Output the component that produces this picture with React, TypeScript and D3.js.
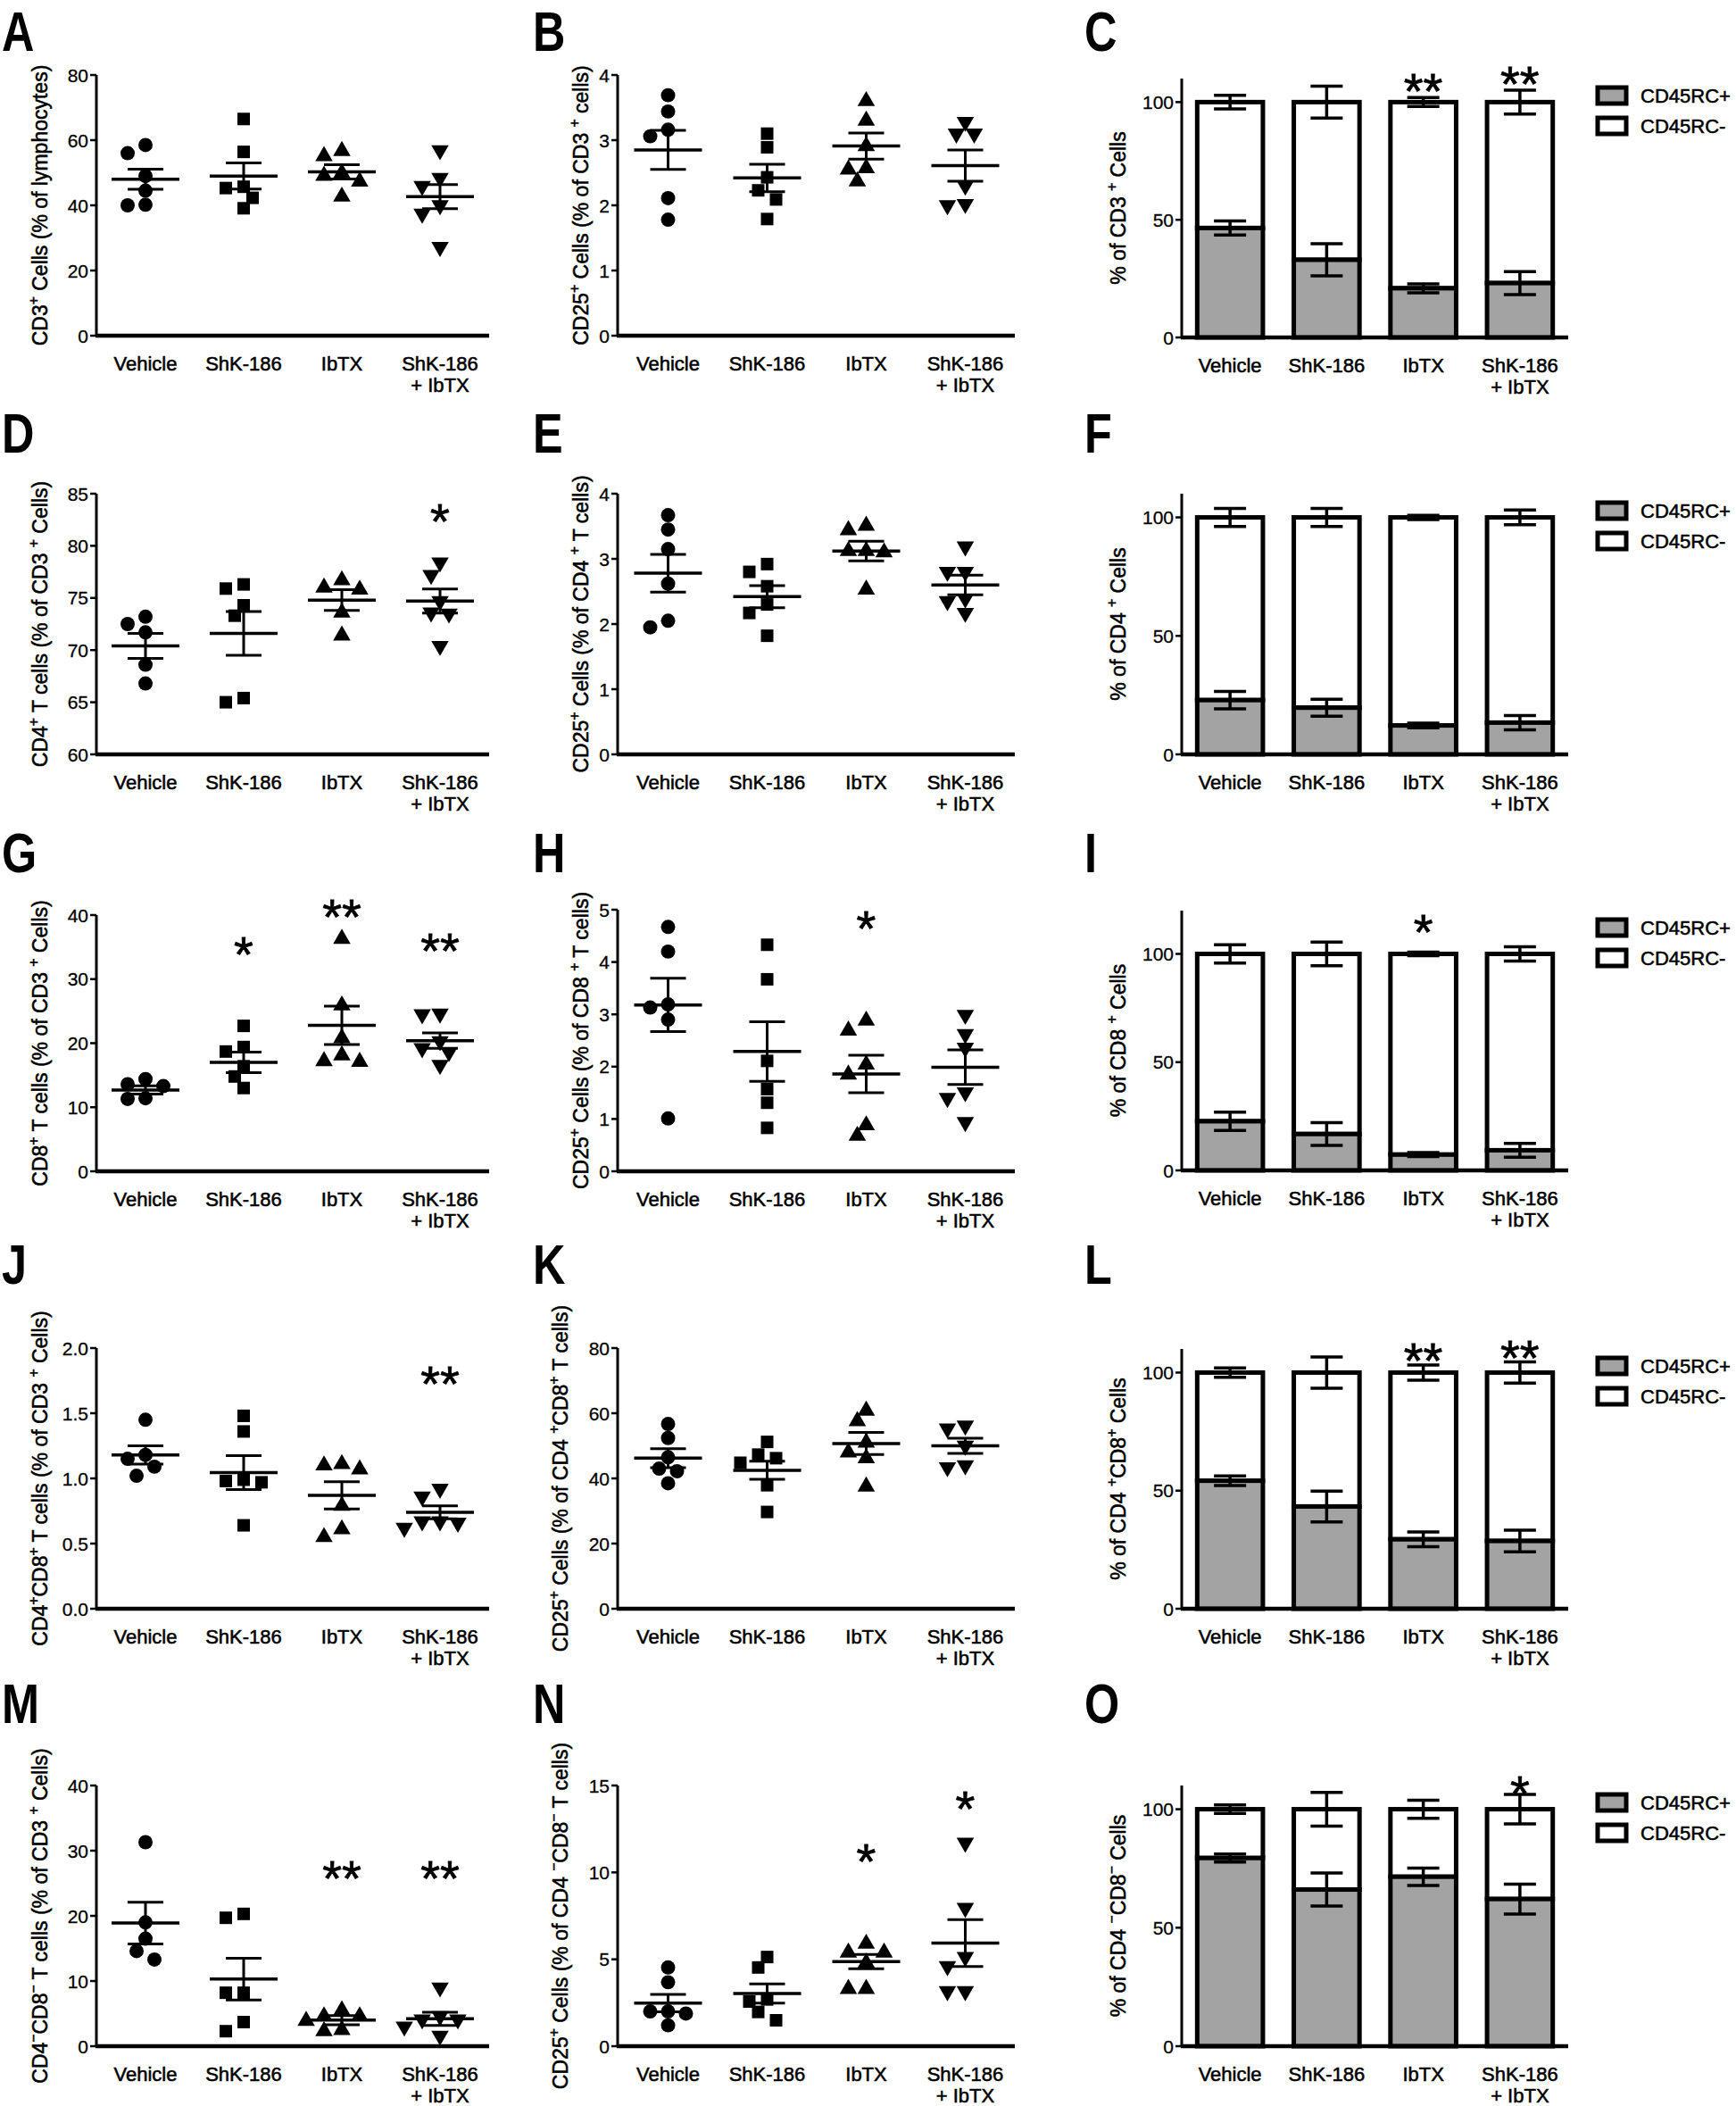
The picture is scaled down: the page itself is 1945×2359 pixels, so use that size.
import React, { useEffect } from 'react';
import * as d3 from 'd3';

const FONT = '"Liberation Sans", Arial, Helvetica, sans-serif';
const GRAY = '#a3a3a3';
const TXT_STROKE = 0.55;

// ---------------- data ----------------
const categories = ['Vehicle', 'ShK-186', 'IbTX', 'ShK-186|+ IbTX'];
const legendLabels = ['CD45RC+', 'CD45RC-'];

// A
const aLabel = 'CD3^+ Cells (% of lymphocytes)';
const aTicks = [0, 20, 40, 60, 80];
const aValues = [
  [58.5, 56, 49, 44.5, 40, 40.2],
  [66.5, 56.4, 45.7, 45.3, 42.3, 39.1],
  [56.7, 55.1, 49.9, 49.1, 47.3, 42.7],
  [56.9, 48.4, 45.9, 40, 37.4, 27.2],
];
const aMean = [48.0, 49.0, 50.3, 42.7];
const aSem = [3.1, 4.0, 2.2, 3.7];
const aStars: { cat: number; mark: string; value: number }[] = [];

// B
const bLabel = 'CD25^+ Cells (% of CD3 ^+ cells)';
const bTicks = [0, 1, 2, 3, 4];
const bValues = [
  [3.69, 3.44, 3.16, 3.06, 2.11, 1.78],
  [3.1, 2.89, 2.43, 2.23, 2.09, 1.79],
  [3.6, 3.3, 2.91, 2.57, 2.55, 2.37],
  [3.28, 3.1, 3.1, 2.3, 2.02, 2.0],
];
const bMean = [2.85, 2.42, 2.91, 2.61];
const bSem = [0.3, 0.21, 0.2, 0.24];
const bStars: { cat: number; mark: string; value: number }[] = [];

// C
const cLabel = '% of CD3 ^+ Cells';
const cPos = [46.5, 33.0, 20.9, 23.1];
const cPosErr = [3.0, 6.8, 1.9, 4.9];
const cNegErr = [2.9, 6.8, 1.9, 5.1];
const cStars = [
  { cat: 2, mark: '**', value: 107.2 },
  { cat: 3, mark: '**', value: 110.2 },
];

// D
const dLabel = 'CD4^+ T cells (% of CD3 ^+ Cells)';
const dTicks = [60, 65, 70, 75, 80, 85];
const dValues = [
  [73.2, 72.5, 71.7, 68.6, 66.8],
  [76.3, 75.9, 74.3, 73.3, 65.4, 65.0],
  [76.7, 76.0, 75.8, 73.6, 71.4],
  [78.4, 77.2, 74.7, 73.6, 73.5, 70.4],
];
const dMean = [70.4, 71.6, 74.8, 74.7];
const dSem = [1.2, 2.1, 1.0, 1.15];
const dStars = [{ cat: 3, mark: '*', value: 82.9 }];

// E
const eLabel = 'CD25^+ Cells (% of CD4 ^+ T cells)';
const eTicks = [0, 1, 2, 3, 4];
const eValues = [
  [3.67, 3.45, 3.15, 2.62, 2.05, 1.95],
  [2.92, 2.8, 2.58, 2.3, 2.17, 1.82],
  [3.51, 3.44, 3.12, 3.12, 3.1, 2.53],
  [3.19, 2.8, 2.8, 2.39, 2.35, 2.17],
];
const eMean = [2.78, 2.42, 3.12, 2.6];
const eSem = [0.29, 0.17, 0.15, 0.15];
const eStars: { cat: number; mark: string; value: number }[] = [];

// F
const fLabel = '% of CD4 ^+ Cells';
const fPos = [22.9, 19.7, 12.2, 13.4];
const fPosErr = [3.7, 3.6, 1.0, 3.0];
const fNegErr = [3.8, 3.8, 0.9, 3.1];
const fStars: { cat: number; mark: string; value: number }[] = [];

// G
const gLabel = 'CD8^+ T cells (% of CD3 ^+ Cells)';
const gTicks = [0, 10, 20, 30, 40];
const gValues = [
  [14.4, 13.6, 13.3, 11.4, 11.3],
  [22.7, 19.4, 18.7, 16.4, 14.8, 13.0],
  [36.3, 25.9, 20.8, 18.1, 17.1, 17.2],
  [24.6, 24.5, 20.3, 19.2, 18.6, 16.6],
];
const gMean = [12.7, 17.0, 22.8, 20.4];
const gSem = [0.65, 1.6, 3.0, 1.2];
const gStars = [
  { cat: 1, mark: '*', value: 34.8 },
  { cat: 2, mark: '**', value: 40.7 },
  { cat: 3, mark: '**', value: 35.4 },
];

// H
const hLabel = 'CD25^+ Cells (% of CD8 ^+ T cells)';
const hTicks = [0, 1, 2, 3, 4, 5];
const hValues = [
  [4.67, 4.2, 3.19, 3.13, 2.9, 1.01],
  [4.33, 3.67, 2.11, 1.57, 1.31, 0.83],
  [2.88, 2.69, 2.04, 1.85, 0.88, 0.68],
  [2.99, 2.62, 2.36, 1.51, 1.4, 0.94],
];
const hMean = [3.18, 2.29, 1.86, 1.99];
const hSem = [0.51, 0.57, 0.36, 0.33];
const hStars = [{ cat: 2, mark: '*', value: 4.76 }];

// I
const iLabel = '% of CD8 ^+ Cells';
const iPos = [22.7, 16.8, 7.3, 9.3];
const iPosErr = [4.2, 5.3, 0.9, 3.2];
const iNegErr = [4.2, 5.5, 0.8, 3.3];
const iStars = [{ cat: 2, mark: '*', value: 113 }];

// J
const jLabel = 'CD4^+CD8^+ T cells (% of CD3 ^+ Cells)';
const jTicks = [0, 0.5, 1.0, 1.5, 2.0];
const jValues = [
  [1.45, 1.18, 1.15, 1.09, 1.02],
  [1.48, 1.36, 0.99, 0.98, 0.97, 0.64],
  [1.11, 1.1, 1.07, 0.79, 0.61, 0.55],
  [0.92, 0.86, 0.67, 0.67, 0.66, 0.62],
];
const jMean = [1.18, 1.045, 0.87, 0.74];
const jSem = [0.07, 0.13, 0.105, 0.05];
const jStars = [{ cat: 3, mark: '**', value: 1.774 }];

// K
const kLabel = 'CD25^+ Cells (% of CD4 ^+CD8^+ T cells)';
const kTicks = [0, 20, 40, 60, 80];
const kValues = [
  [56.7, 52.4, 46.5, 43.0, 42.2, 38.5],
  [51.2, 47.3, 46.2, 44.8, 37.9, 29.7],
  [60.8, 57.6, 51.0, 48.0, 46.2, 37.5],
  [56.2, 55.3, 50.0, 44.0, 43.4],
];
const kMean = [46.2, 42.5, 50.7, 50.0];
const kSem = [2.9, 2.8, 3.4, 2.3];
const kStars: { cat: number; mark: string; value: number }[] = [];

// L
const lLabel = '% of CD4 ^+CD8^+ Cells';
const lPos = [54.2, 43.3, 29.4, 28.7];
const lPosErr = [2.0, 6.5, 3.1, 4.6];
const lNegErr = [2.0, 6.6, 3.2, 4.5];
const lStars = [
  { cat: 2, mark: '**', value: 107.7 },
  { cat: 3, mark: '**', value: 108.9 },
];

// M
const mLabel = 'CD4^-CD8^- T cells (% of CD3 ^+ Cells)';
const mTicks = [0, 10, 20, 30, 40];
const mValues = [
  [31.3, 19.0, 16.5, 14.6, 13.3],
  [20.3, 19.7, 8.2, 8.2, 3.7, 2.3],
  [5.5, 4.6, 4.6, 3.9, 2.5, 2.3],
  [9.0, 4.6, 4.1, 4.1, 3.0, 1.6],
];
const mMean = [18.9, 10.3, 4.0, 4.2];
const mSem = [3.2, 3.2, 0.7, 1.0];
const mStars = [
  { cat: 2, mark: '**', value: 26.7 },
  { cat: 3, mark: '**', value: 26.7 },
];

// N
const nLabel = 'CD25^+ Cells (% of CD4 ^-CD8^- T cells)';
const nTicks = [0, 5, 10, 15];
const nValues = [
  [4.53, 3.68, 2.0, 2.0, 1.88, 1.2],
  [5.13, 4.53, 2.69, 2.57, 1.97, 1.49],
  [5.9, 5.39, 5.39, 4.8, 3.3, 3.3],
  [11.7, 7.95, 5.13, 4.6, 3.16, 3.16],
];
const nMean = [2.48, 3.03, 4.87, 5.93];
const nSem = [0.5, 0.55, 0.41, 1.35];
const nStars = [
  { cat: 2, mark: '*', value: 11.0 },
  { cat: 3, mark: '*', value: 14.0 },
];

// O
const oLabel = '% of CD4 ^-CD8^- Cells';
const oPos = [79.4, 66.1, 71.5, 62.1];
const oPosErr = [1.7, 7.0, 3.7, 6.3];
const oNegErr = [1.8, 7.1, 3.8, 6.2];
const oStars = [{ cat: 3, mark: '*', value: 109.3 }];

// ---------------- layout ----------------
const COLS = {
  left: { axisX: 108, bandStart: 108, bandEnd: 548, letterX: 2 },
  mid: { axisX: 692, bandStart: 693, bandEnd: 1137, letterX: 597 },
  right: { axisX: 1324, bandStart: 1324, bandEnd: 1757, letterX: 1215 },
};

type Star = { cat: number; mark: string; value: number };

function RichLabel({ text, x, y, size }: { text: string; x: number; y: number; size: number }) {
  const parts = text.split(/(\^[+-])/).filter((s) => s.length);
  const spans: any[] = [];
  let shifted = false;
  const sh = size * 0.42;
  parts.forEach((p, i) => {
    if (p.startsWith('^')) {
      spans.push(
        <tspan key={i} dy={shifted ? 0 : -sh} fontSize={size * 0.68}>
          {p[1] === '-' ? '\u2212' : '+'}
        </tspan>
      );
      shifted = true;
    } else {
      spans.push(
        <tspan key={i} dy={shifted ? sh : 0}>
          {p}
        </tspan>
      );
      shifted = false;
    }
  });
  return (
    <text
      transform={`translate(${x},${y}) rotate(-90)`}
      textAnchor="middle"
      fontSize={size}
      fontFamily={FONT}
      fill="#000"
      stroke="#000"
      strokeWidth={TXT_STROKE}
    >
      {spans}
    </text>
  );
}

function Letter({ ch, x, y }: { ch: string; x: number; y: number }) {
  return (
    <text
      transform={`translate(${x},${y}) scale(0.9,1.12)`}
      fontSize={56}
      fontWeight="bold"
      fontFamily={FONT}
      fill="#000"
    >
      {ch}
    </text>
  );
}

function CategoryLabels({ x, bottom }: { x: d3.ScaleBand<string>; bottom: number }) {
  return (
    <g fontFamily={FONT} fontSize={22} textAnchor="middle" fill="#000" stroke="#000" strokeWidth={TXT_STROKE}>
      {categories.map((c) => {
        const cx = (x(c) as number) + x.bandwidth() / 2;
        return c.split('|').map((line, li) => (
          <text key={c + li} x={cx} y={bottom + 39 + li * 24}>
            {line}
          </text>
        ));
      })}
    </g>
  );
}

function YAxis({ axisX, y, ticks, fmt, top, bottom }: any) {
  return (
    <g>
      <line x1={axisX} x2={axisX} y1={top} y2={bottom + 1} stroke="#000" strokeWidth={3} />
      {ticks.map((t: number) => (
        <g key={t}>
          <line x1={axisX - 7} x2={axisX} y1={y(t)} y2={y(t)} stroke="#000" strokeWidth={2.5} />
          <text
            x={axisX - 9}
            y={y(t)}
            dy="0.36em"
            textAnchor="end"
            fontSize={21}
            fontFamily={FONT}
            fill="#000"
            stroke="#000"
            strokeWidth={0.3}
          >
            {fmt(t)}
          </text>
        </g>
      ))}
    </g>
  );
}

function Stars({ stars, x, y }: { stars: Star[]; x: d3.ScaleBand<string>; y: d3.ScaleLinear<number, number> }) {
  const fs = 56;
  return (
    <g>
      {stars.map((s, i) => (
        <text
          key={i}
          x={(x(categories[s.cat]) as number) + x.bandwidth() / 2}
          y={y(s.value) + fs * 0.46}
          textAnchor="middle"
          fontSize={fs}
          fontFamily={FONT}
          fill="#000"
          stroke="#000"
          strokeWidth={0.8}
        >
          {s.mark}
        </text>
      ))}
    </g>
  );
}

function swarm(values: number[], y: (v: number) => number, cx: number) {
  const step = 10;
  const minDist = 15;
  const cands = [0, -step, step, -2 * step, 2 * step, -3 * step, 3 * step, -4 * step, 4 * step];
  const order = values.map((_, i) => i).sort((a, b) => values[b] - values[a]);
  const placed: { x: number; y: number }[] = [];
  const res: { x: number; y: number }[] = new Array(values.length);
  for (const i of order) {
    const py = y(values[i]);
    let dx = 0;
    for (const c of cands) {
      if (placed.every((p) => Math.hypot(p.x - c, p.y - py) >= minDist)) {
        dx = c;
        break;
      }
    }
    placed.push({ x: dx, y: py });
    res[i] = { x: cx + dx, y: py };
  }
  return res;
}

const symbolPaths = [
  d3.symbol().type(d3.symbolCircle).size(200)() as string,
  d3.symbol().type(d3.symbolSquare).size(196)() as string,
  d3.symbol().type(d3.symbolTriangle).size(165)() as string,
  d3.symbol().type(d3.symbolTriangle).size(165)() as string,
];

function Scatter(props: {
  letter: string;
  col: keyof typeof COLS;
  letterY: number;
  top: number;
  bottom: number;
  domain: [number, number];
  ticks: number[];
  fmt?: (v: number) => string;
  values: number[][];
  means: number[];
  sems: number[];
  stars: Star[];
  label: string;
  labelX: number;
}) {
  const c = COLS[props.col];
  const x = d3.scaleBand<string>().domain(categories).range([c.bandStart, c.bandEnd]);
  const y = d3.scaleLinear().domain(props.domain).range([props.bottom, props.top]);
  const fmt = props.fmt || ((v: number) => String(v));
  return (
    <g>
      <Letter ch={props.letter} x={c.letterX} y={props.letterY} />
      <RichLabel text={props.label} x={props.labelX} y={(props.top + props.bottom) / 2} size={23} />
      <YAxis axisX={c.axisX} y={y} ticks={props.ticks} fmt={fmt} top={props.top} bottom={props.bottom} />
      <line x1={c.axisX - 1} x2={c.bandEnd} y1={props.bottom} y2={props.bottom} stroke="#000" strokeWidth={4.5} />
      <CategoryLabels x={x} bottom={props.bottom} />
      {categories.map((cat, gi) => {
        const cx = (x(cat) as number) + x.bandwidth() / 2;
        const pts = swarm(props.values[gi], y, cx);
        const m = props.means[gi];
        const s = props.sems[gi];
        return (
          <g key={cat}>
            {pts.map((p, pi) => (
              <path
                key={pi}
                d={symbolPaths[gi]}
                transform={`translate(${p.x},${p.y})${gi === 3 ? ' rotate(180)' : ''}`}
                fill="#000"
              />
            ))}
            <line x1={cx - 38} x2={cx + 38} y1={y(m)} y2={y(m)} stroke="#000" strokeWidth={3.5} />
            <line x1={cx} x2={cx} y1={y(m - s)} y2={y(m + s)} stroke="#000" strokeWidth={3} />
            <line x1={cx - 20} x2={cx + 20} y1={y(m + s)} y2={y(m + s)} stroke="#000" strokeWidth={3} />
            <line x1={cx - 20} x2={cx + 20} y1={y(m - s)} y2={y(m - s)} stroke="#000" strokeWidth={3} />
          </g>
        );
      })}
      <Stars stars={props.stars} x={x} y={y} />
    </g>
  );
}

function StackedBars(props: {
  letter: string;
  letterY: number;
  top: number;
  bottom: number;
  max: number;
  pos: number[];
  posErr: number[];
  negErr: number[];
  stars: Star[];
  label: string;
}) {
  const c = COLS.right;
  const x = d3.scaleBand<string>().domain(categories).range([c.bandStart, c.bandEnd]);
  const y = d3.scaleLinear().domain([0, props.max]).range([props.bottom, props.top]);
  const bw = x.bandwidth() * 0.68;
  const cap = 18;
  const stack = d3.stack<any>().keys(['pos', 'neg'])(
    props.pos.map((p) => ({ pos: p, neg: 100 - p }))
  );
  return (
    <g>
      <Letter ch={props.letter} x={c.letterX} y={props.letterY} />
      <RichLabel text={props.label} x={1261} y={(props.top + props.bottom) / 2} size={23} />
      {categories.map((cat, gi) => {
        const cx = (x(cat) as number) + x.bandwidth() / 2;
        const posSeg = stack[0][gi];
        const negSeg = stack[1][gi];
        return (
          <g key={cat}>
            <rect
              x={cx - bw / 2}
              width={bw}
              y={y(negSeg[1])}
              height={y(negSeg[0]) - y(negSeg[1])}
              fill="#fff"
              stroke="#000"
              strokeWidth={5}
            />
            <rect
              x={cx - bw / 2}
              width={bw}
              y={y(posSeg[1])}
              height={y(posSeg[0]) - y(posSeg[1])}
              fill={GRAY}
              stroke="#000"
              strokeWidth={5}
            />
          </g>
        );
      })}
      {categories.map((cat, gi) => {
        const cx = (x(cat) as number) + x.bandwidth() / 2;
        const p = props.pos[gi];
        const pe = props.posErr[gi];
        const ne = props.negErr[gi];
        return (
          <g key={cat + 'e'} stroke="#000" strokeWidth={3.5}>
            <line x1={cx} x2={cx} y1={y(p - pe)} y2={y(p + pe)} />
            <line x1={cx - cap} x2={cx + cap} y1={y(p + pe)} y2={y(p + pe)} />
            <line x1={cx - cap} x2={cx + cap} y1={y(p - pe)} y2={y(p - pe)} />
            <line x1={cx} x2={cx} y1={y(100 - ne)} y2={y(100 + ne)} />
            <line x1={cx - cap} x2={cx + cap} y1={y(100 + ne)} y2={y(100 + ne)} />
            <line x1={cx - cap} x2={cx + cap} y1={y(100 - ne)} y2={y(100 - ne)} />
          </g>
        );
      })}
      <YAxis axisX={c.axisX} y={y} ticks={[0, 50, 100]} fmt={(v: number) => String(v)} top={props.top} bottom={props.bottom} />
      <line x1={c.axisX - 1} x2={c.bandEnd} y1={props.bottom} y2={props.bottom} stroke="#000" strokeWidth={4.5} />
      <CategoryLabels x={x} bottom={props.bottom} />
      <Stars stars={props.stars} x={x} y={y} />
      {legendLabels.map((lab, li) => {
        const cy = props.top + 19 + li * 34;
        return (
          <g key={lab}>
            <rect x={1790} y={cy - 9} width={32} height={18} fill={li === 0 ? GRAY : '#fff'} stroke="#000" strokeWidth={5} />
            <text x={1838} y={cy} dy="0.36em" fontSize={22} fontFamily={FONT} fill="#000" stroke="#000" strokeWidth={TXT_STROKE}>
              {lab}
            </text>
          </g>
        );
      })}
    </g>
  );
}

export default function App() {
  useEffect(() => {
    document.body.style.margin = '0';
  }, []);
  const f1 = (v: number) => d3.format('.1f')(v);
  return (
    <svg
      width={1945}
      height={2359}
      viewBox="0 0 1945 2359"
      style={{ display: 'block', background: '#fff', position: 'absolute', left: 0, top: 0 }}
    >
      <rect width={1945} height={2359} fill="#fff" />
      {/* Row 1 */}
      <Scatter letter="A" col="left" letterY={57} top={84} bottom={376} domain={[0, 80]} ticks={aTicks}
        values={aValues} means={aMean} sems={aSem} stars={aStars} label={aLabel} labelX={53} />
      <Scatter letter="B" col="mid" letterY={57} top={84} bottom={376} domain={[0, 4]} ticks={bTicks}
        values={bValues} means={bMean} sems={bSem} stars={bStars} label={bLabel} labelX={659} />
      <StackedBars letter="C" letterY={57} top={88} bottom={378} max={110} pos={cPos} posErr={cPosErr}
        negErr={cNegErr} stars={cStars} label={cLabel} />
      {/* Row 2 */}
      <Scatter letter="D" col="left" letterY={507} top={553} bottom={845} domain={[60, 85]} ticks={dTicks}
        values={dValues} means={dMean} sems={dSem} stars={dStars} label={dLabel} labelX={53} />
      <Scatter letter="E" col="mid" letterY={507} top={553} bottom={845} domain={[0, 4]} ticks={eTicks}
        values={eValues} means={eMean} sems={eSem} stars={eStars} label={eLabel} labelX={659} />
      <StackedBars letter="F" letterY={507} top={553} bottom={845} max={110} pos={fPos} posErr={fPosErr}
        negErr={fNegErr} stars={fStars} label={fLabel} />
      {/* Row 3 */}
      <Scatter letter="G" col="left" letterY={977} top={1025} bottom={1312} domain={[0, 40]} ticks={gTicks}
        values={gValues} means={gMean} sems={gSem} stars={gStars} label={gLabel} labelX={53} />
      <Scatter letter="H" col="mid" letterY={977} top={1019} bottom={1312} domain={[0, 5]} ticks={hTicks}
        values={hValues} means={hMean} sems={hSem} stars={hStars} label={hLabel} labelX={659} />
      <StackedBars letter="I" letterY={977} top={1020} bottom={1311} max={120} pos={iPos} posErr={iPosErr}
        negErr={iNegErr} stars={iStars} label={iLabel} />
      {/* Row 4 */}
      <Scatter letter="J" col="left" letterY={1438} top={1510} bottom={1802} domain={[0, 2]} ticks={jTicks}
        fmt={f1} values={jValues} means={jMean} sems={jSem} stars={jStars} label={jLabel} labelX={53} />
      <Scatter letter="K" col="mid" letterY={1438} top={1510} bottom={1802} domain={[0, 80]} ticks={kTicks}
        values={kValues} means={kMean} sems={kSem} stars={kStars} label={kLabel} labelX={636} />
      <StackedBars letter="L" letterY={1438} top={1511} bottom={1802} max={110} pos={lPos} posErr={lPosErr}
        negErr={lNegErr} stars={lStars} label={lLabel} />
      {/* Row 5 */}
      <Scatter letter="M" col="left" letterY={1930} top={2000} bottom={2292} domain={[0, 40]} ticks={mTicks}
        values={mValues} means={mMean} sems={mSem} stars={mStars} label={mLabel} labelX={53} />
      <Scatter letter="N" col="mid" letterY={1930} top={2000} bottom={2292} domain={[0, 15]} ticks={nTicks}
        values={nValues} means={nMean} sems={nSem} stars={nStars} label={nLabel} labelX={636} />
      <StackedBars letter="O" letterY={1930} top={2000} bottom={2292} max={110} pos={oPos} posErr={oPosErr}
        negErr={oNegErr} stars={oStars} label={oLabel} />
    </svg>
  );
}
